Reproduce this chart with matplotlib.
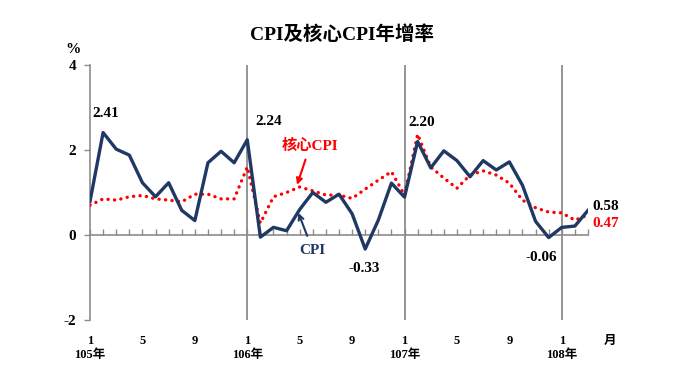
import numpy as np
import matplotlib
matplotlib.use("Agg")
import matplotlib.pyplot as plt
from matplotlib import transforms

# 105年1月 ~ 108年3月
cpi = [0.79, 2.41, 2.02, 1.88, 1.23, 0.90, 1.23, 0.58, 0.34, 1.70, 1.97, 1.70,
       2.24, -0.05, 0.18, 0.10, 0.60, 1.00, 0.77, 0.96, 0.50, -0.33, 0.35, 1.22,
       0.89, 2.20, 1.58, 1.98, 1.75, 1.37, 1.75, 1.53, 1.72, 1.17, 0.32, -0.06,
       0.18, 0.21, 0.58]
core_cpi = [0.70, 0.85, 0.82, 0.90, 0.93, 0.85, 0.82, 0.78, 0.96, 0.96, 0.85, 0.85,
            1.60, 0.28, 0.90, 1.00, 1.13, 1.04, 0.94, 0.94, 0.86, 1.08, 1.29, 1.49,
            0.94, 2.37, 1.60, 1.34, 1.10, 1.41, 1.51, 1.41, 1.22, 0.82, 0.64, 0.54,
            0.52, 0.35, 0.47]
years = ["105年", "106年", "107年", "108年"]
month_ticks = ["1", "5", "9"]
y_ticks = [-2, 0, 2, 4]

# 標註的月份
note_idx = [1, 12, 25, 21, 35]
note_dx = [0.2, 1.6, 0.3, -0.1, -0.6]

fnt = ["Liberation Serif", "Noto Sans CJK TC"]
navy = "#1f3864"
red = "#ff0000"
gray = "#8c8c8c"

fig = plt.figure(figsize=(6.8, 3.83), dpi=100)
ax = fig.add_axes([90 / 680, 1 - 320 / 383, (588 - 90) / 680, 255 / 383])
x = np.arange(len(cpi))

ax.set_xlim(0, len(cpi) - 1)
ax.set_ylim(-2, 4)

for s in ["top", "right"]:
    ax.spines[s].set_visible(False)
ax.spines["left"].set_color(gray)
ax.spines["left"].set_linewidth(1.2)
ax.spines["bottom"].set_position(("data", 0))
ax.spines["bottom"].set_color(gray)
ax.spines["bottom"].set_linewidth(1.2)

ax.set_xticks(x)
ax.tick_params(axis="x", direction="in", length=4, color=gray, width=1, labelbottom=False)
ax.set_yticks(y_ticks)
ax.set_yticklabels([str(v) for v in y_ticks], family=fnt, fontweight="bold", fontsize=11)
ax.tick_params(axis="y", direction="out", length=4, color=gray, width=1, pad=6)

for k in range(1, len(years)):
    ax.axvline(12 * k, color=gray, lw=1.3, zorder=1)

ax.plot(x, core_cpi, color=red, lw=2.4, linestyle=(0, (0.05, 1.9)),
        dash_capstyle="round", zorder=3)
ax.plot(x, cpi, color=navy, lw=2.4, zorder=4)

# x軸 標籤
trans = transforms.blended_transform_factory(ax.transData, ax.transAxes)
for k, yr in enumerate(years):
    for j, m in enumerate(month_ticks):
        pos = 12 * k + 4 * j
        if pos < len(cpi):
            ax.text(pos, -0.06, m, transform=trans, ha="center", va="top",
                    family=fnt, fontweight="bold", fontsize=9)
    ax.text(12 * k, -0.115, yr, transform=trans, ha="center", va="top",
            family=fnt, fontweight="bold", fontsize=9)
ax.text(len(cpi) + 0.7, -0.06, "月", transform=trans, ha="center", va="top",
        family=fnt, fontweight="bold", fontsize=9)

ax.text(-0.034, 1.06, "%", transform=ax.transAxes, ha="center", va="center",
        family=fnt, fontweight="bold", fontsize=11)

for i, dx in zip(note_idx, note_dx):
    dy = 0.44 if cpi[i] > 0 else -0.46
    ax.text(i + dx, cpi[i] + dy, f"{cpi[i]:.2f}", ha="center", va="center",
            family=fnt, fontweight="bold", fontsize=11)

ax.text(len(cpi) - 0.7, cpi[-1] + 0.1, f"{cpi[-1]:.2f}", ha="left", va="center",
        family=fnt, fontweight="bold", fontsize=11, clip_on=False)
ax.text(len(cpi) - 0.7, core_cpi[-1] - 0.2, f"{core_cpi[-1]:.2f}", ha="left", va="center",
        family=fnt, fontweight="bold", fontsize=11, color=red, clip_on=False)

ax.annotate("核心CPI", xy=(15.8, 1.18), xytext=(16.8, 2.1), ha="center", va="center",
            family=fnt, fontweight="bold", fontsize=11, color=red,
            arrowprops=dict(arrowstyle="-|>", color=red, lw=1.5, mutation_scale=9,
                            shrinkA=3, shrinkB=0))
ax.annotate("CPI", xy=(15.9, 0.52), xytext=(17.0, -0.36), ha="center", va="center",
            family=fnt, fontweight="bold", fontsize=11, color=navy,
            arrowprops=dict(arrowstyle="->", color=navy, lw=1.5, mutation_scale=9,
                            shrinkA=4, shrinkB=0))

fig.text(342 / 680, 1 - 35 / 383, "CPI及核心CPI年增率", ha="center", va="center",
         family=fnt, fontweight="bold", fontsize=14)

fig.savefig("out.png", dpi=100)
